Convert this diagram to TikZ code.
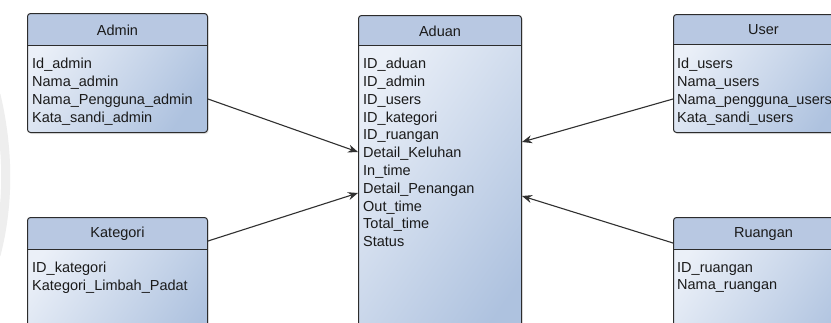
\documentclass[tikz,border=0pt]{standalone}
\usepackage{fontspec}
\setmainfont{Liberation Sans}
\usetikzlibrary{arrows.meta,shadows}
\definecolor{headcol}{HTML}{B8C8E2}
\definecolor{bodylt}{HTML}{EBF0F8}
\definecolor{bodydk}{HTML}{AEC2DF}
\definecolor{edgecol}{HTML}{2C2C2C}
\definecolor{linkcol}{HTML}{303030}
\definecolor{txtcol}{HTML}{1A1A1A}
\definecolor{markcol}{HTML}{EEEEEE}
\tikzset{
  entity/.style n args={3}{rectangle, draw=edgecol, line width=1pt, rounded corners=3pt,
    inner sep=0pt, anchor=north west, minimum width=#1, minimum height=#2,
    top color=bodylt, bottom color=bodydk, shading angle=55,
    drop shadow={opacity=0.18, shadow xshift=1.2pt, shadow yshift=-1.5pt},
    path picture={
      \fill[headcol] (path picture bounding box.north west) rectangle
        ([yshift=-#3]path picture bounding box.north east);
      \draw[edgecol, line width=1pt] ([yshift=-#3]path picture bounding box.north west) --
        ([yshift=-#3]path picture bounding box.north east);
    }},
  title/.style={font=\fontsize{14.5pt}{17.8pt}\selectfont, text=txtcol, inner sep=0pt},
  attrs/.style={font=\fontsize{14.5pt}{17.8pt}\selectfont, text=txtcol, inner sep=0pt,
    align=left, anchor=north west},
  link/.style={draw=linkcol, line width=1.1pt, -{Stealth[length=10pt,width=8pt]}}
}
\begin{document}
\begin{tikzpicture}[x=1pt,y=-1pt]
\useasboundingbox (0,0) rectangle (831,322);
\clip (0,0) rectangle (831,322);
\fill[white] (0,0) rectangle (831,322);
% faint watermark arc at the left edge
\draw[markcol, line width=9pt] (-4,95) .. controls (9,150) and (9,205) .. (-4,255);

% entities
\node[entity={180pt}{119pt}{32pt}] (admin) at (27,13) {};
\node[entity={163pt}{345pt}{30pt}] (aduan) at (358,15) {};
\node[entity={180pt}{118pt}{30pt}] (user) at (673,14) {};
\node[entity={180pt}{150pt}{32pt}] (kategori) at (27,217) {};
\node[entity={180pt}{150pt}{32pt}] (ruangan) at (673,217) {};

% titles
\node[title] (admint) at ([yshift=-17pt]admin.north) {Admin};
\node[title] (adluant) at ([yshift=-16pt]aduan.north) {Aduan};
\node[title] (usert) at ([yshift=-16pt]user.north) {User};
\node[title] (kategorit) at ([yshift=-17pt]kategori.north) {Kategori};
\node[title] (ruangant) at ([yshift=-17pt]ruangan.north) {Ruangan};

% attributes
\node[attrs] (admina) at ([xshift=5pt,yshift=-45pt]admin.north west)
  {Id\_admin\\Nama\_admin\\Nama\_Pengguna\_admin\\Kata\_sandi\_admin};
\node[attrs] (aduana) at ([xshift=5pt,yshift=-43pt]aduan.north west)
  {ID\_aduan\\ID\_admin\\ID\_users\\ID\_kategori\\ID\_ruangan\\Detail\_Keluhan\\In\_time\\Detail\_Penangan\\Out\_time\\Total\_time\\Status};
\node[attrs] (usera) at ([xshift=4pt,yshift=-44pt]user.north west)
  {Id\_users\\Nama\_users\\Nama\_pengguna\_users\\Kata\_sandi\_users};
\node[attrs] (kategoria) at ([xshift=5pt,yshift=-45pt]kategori.north west)
  {ID\_kategori\\Kategori\_Limbah\_Padat};
\node[attrs] (ruangana) at ([xshift=4pt,yshift=-45pt]ruangan.north west)
  {ID\_ruangan\\Nama\_ruangan};

% connectors
\draw[link] ([yshift=-86pt]admin.north east) -- ([yshift=-137pt]aduan.north west);
\draw[link] ([yshift=-24pt]kategori.north east) -- ([yshift=-178pt]aduan.north west);
\draw[link] ([yshift=-85pt]user.north west) -- ([yshift=-127pt]aduan.north east);
\draw[link] ([yshift=-26pt]ruangan.north west) -- ([yshift=-181pt]aduan.north east);
\end{tikzpicture}
\end{document}
